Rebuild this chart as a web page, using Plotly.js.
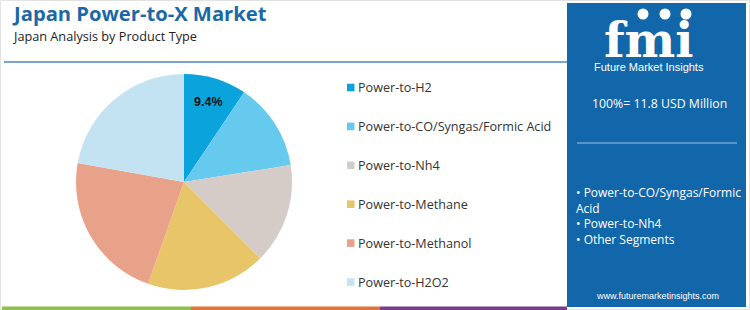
<!DOCTYPE html>
<html><head><meta charset="utf-8">
<script src="https://cdn.plot.ly/plotly-3.0.1.min.js"></script>
<style>html,body{margin:0;padding:0;background:#fff;}#chart{width:750px;height:310px;}</style>
</head><body><div id="chart"></div>
<script>
// ---- data ----
const categories = ['Power-to-H2','Power-to-CO/Syngas/Formic Acid','Power-to-Nh4','Power-to-Methane','Power-to-Methanol','Power-to-H2O2'];
const shares = [9.4, 13.1, 15.0, 17.9, 22.4, 22.2];
const sliceColors = ['#0aa3dc','#66caee','#d5ccc8','#e9c56a','#e8a289','#c4e3f2'];
const showPct = [true, false, false, false, false, false];
const titleText = 'Japan Power-to-X Market';
const subtitleText = 'Japan Analysis by Product Type';
const totalText = '100%= 11.8 USD Million';
const keyLines = ['• Power-to-CO/Syngas/Formic', 'Acid', '• Power-to-Nh4', '• Other Segments'];
const siteText = 'www.futuremarketinsights.com';
const brandText = 'Future Market Insights';
const logoText = 'fmi';

const W = 750, H = 310;
const px = x => x / W;
const py = y => 1 - y / H;
const FONT = '"Open Sans", sans-serif';

// pie geometry (pixels)
const cx = 184, cy = 182, R = 108;

const trace = {
  type: 'pie',
  labels: categories,
  values: shares,
  sort: false,
  direction: 'clockwise',
  rotation: 0,
  marker: {colors: sliceColors, line: {width: 0}},
  texttemplate: showPct.map(s => s ? '<b>%{percent:.1%}</b>' : ''),
  textposition: 'inside',
  insidetextorientation: 'horizontal',
  textfont: {family: '"Liberation Sans", Arial, sans-serif', size: 12.5, color: '#111'},
  hoverinfo: 'none',
  showlegend: false,
  domain: {x: [px(cx - R), px(cx + R)], y: [py(cy + R), py(cy - R)]}
};

const shapes = [];
const annotations = [];

// outer faint border
shapes.push({type:'rect', xref:'paper', yref:'paper', x0:px(0.5), x1:px(749.5), y0:py(309.5), y1:py(0.5), line:{color:'#e2e2e2', width:1}, fillcolor:'rgba(0,0,0,0)', layer:'below'});
// header rule
shapes.push({type:'line', xref:'paper', yref:'paper', x0:px(4), x1:px(567), y0:py(62), y1:py(62), line:{color:'#4f86b3', width:1.5}});
// bottom colour strips
const stripColors = ['#8cc050','#e07338','#7c3b8c'];
const stripEdges = [2, 191, 380, 567];
stripColors.forEach((c, i) => shapes.push({type:'rect', xref:'paper', yref:'paper', x0:px(stripEdges[i]), x1:px(stripEdges[i+1]), y0:py(310), y1:py(306.5), line:{width:0}, fillcolor:c}));
// right panel
shapes.push({type:'rect', xref:'paper', yref:'paper', x0:px(567), x1:px(746), y0:py(307), y1:py(3), line:{width:0}, fillcolor:'#1267aa', layer:'below'});
// separator in panel
shapes.push({type:'line', xref:'paper', yref:'paper', x0:px(577), x1:px(737), y0:py(143), y1:py(143), line:{color:'#9fc3e3', width:1.2}});

// title + subtitle
annotations.push({xref:'paper', yref:'paper', x:px(10), y:py(13), xanchor:'left', yanchor:'middle', showarrow:false, text:'<b>'+titleText+'</b>', font:{family:FONT, size:20.2, color:'#1a68a8'}});
annotations.push({xref:'paper', yref:'paper', x:px(10), y:py(36), xanchor:'left', yanchor:'middle', showarrow:false, text:subtitleText, font:{family:FONT, size:12.7, color:'#222'}});

// legend
const legendY0 = 87.5, legendStep = 38.9;
categories.forEach((c, i) => {
  const y = legendY0 + i * legendStep;
  shapes.push({type:'rect', xref:'paper', yref:'paper', x0:px(347), x1:px(354.5), y0:py(y + 3.8), y1:py(y - 3.8), line:{width:0}, fillcolor:sliceColors[i]});
  annotations.push({xref:'paper', yref:'paper', x:px(356), y:py(y), xanchor:'left', yanchor:'middle', showarrow:false, text:c, font:{family:FONT, size:12.6, color:'#333'}});
});

// logo with caption as one text block
annotations.push({xref:'paper', yref:'paper', x:px(649), y:py(42), xanchor:'center', yanchor:'middle', align:'center', showarrow:false,
  text:'<span style="font-family:\'DejaVu Serif\', serif;font-size:48px;font-weight:bold">'+logoText+'</span><br>'+brandText,
  font:{family:'"Liberation Sans Narrow", "Liberation Sans", sans-serif', size:11, color:'#ffffff'}});
for (let y = 25; y <= 54; y += 4) {
  shapes.push({type:'line', xref:'paper', yref:'paper', x0:px(596), x1:px(702), y0:py(y), y1:py(y), line:{color:'#1267aa', width:1.2}});
}
[[643,14],[665,14],[686,14]].forEach(p => shapes.push({type:'circle', xref:'paper', yref:'paper', x0:px(p[0]-5.5), x1:px(p[0]+5.5), y0:py(p[1]+5.5), y1:py(p[1]-5.5), line:{width:0}, fillcolor:'#ffffff'}));

annotations.push({xref:'paper', yref:'paper', x:px(659), y:py(104), xanchor:'center', yanchor:'middle', showarrow:false, text:totalText, font:{family:FONT, size:12.3, color:'#ffffff'}});

annotations.push({xref:'paper', yref:'paper', x:px(574), y:py(216), xanchor:'left', yanchor:'middle', align:'left', showarrow:false, text:keyLines.join('<br>'), font:{family:FONT, size:12, color:'#ffffff'}});

annotations.push({xref:'paper', yref:'paper', x:px(657), y:py(296), xanchor:'center', yanchor:'middle', showarrow:false, text:siteText, font:{family:'"Liberation Sans Narrow", "Liberation Sans", sans-serif', size:9, color:'#ffffff'}});

const layout = {
  width: W, height: H,
  margin: {l:0, r:0, t:0, b:0},
  paper_bgcolor: '#ffffff',
  plot_bgcolor: '#ffffff',
  showlegend: false,
  shapes: shapes,
  annotations: annotations
};

Plotly.newPlot('chart', [trace], layout, {displayModeBar:false, staticPlot:true});
</script>
</body></html>
